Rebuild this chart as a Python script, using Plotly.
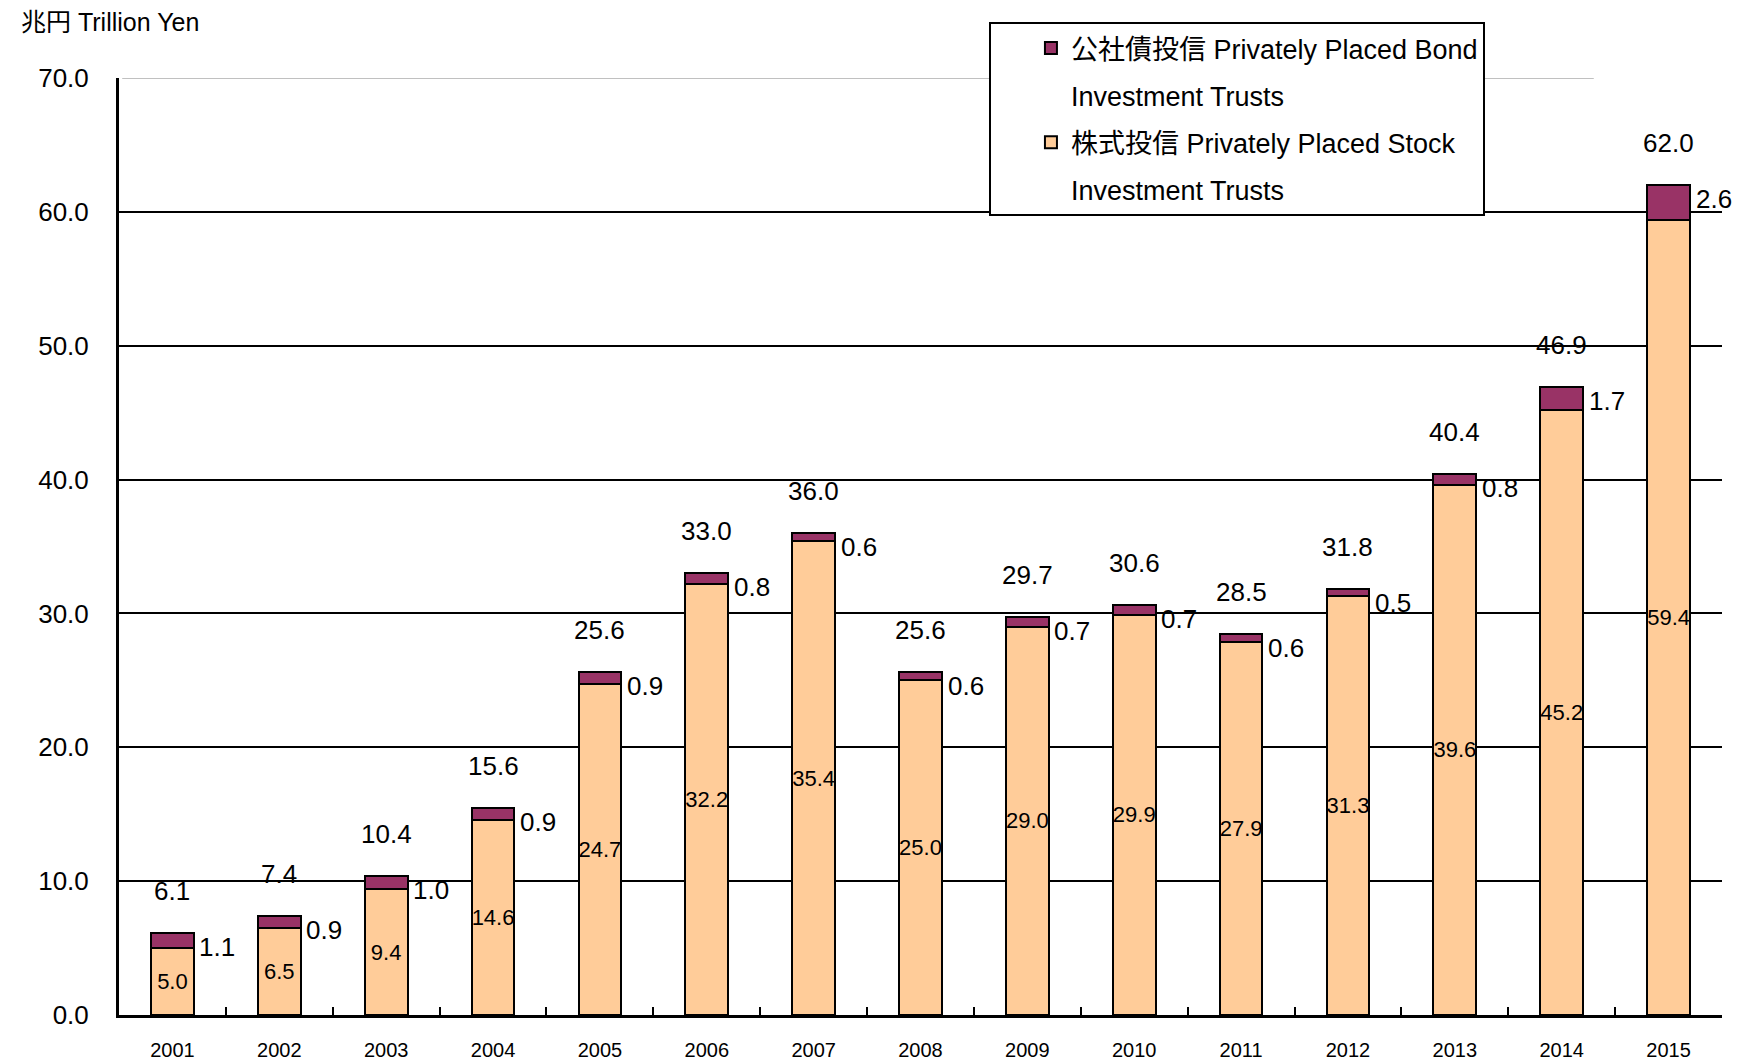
import plotly.graph_objects as go

# ---- data (trillion yen) ----
years = ["2001", "2002", "2003", "2004", "2005", "2006", "2007", "2008",
         "2009", "2010", "2011", "2012", "2013", "2014", "2015"]
stock = [5.0, 6.5, 9.4, 14.6, 24.7, 32.2, 35.4, 25.0, 29.0, 29.9, 27.9, 31.3, 39.6, 45.2, 59.4]
bond = [1.1, 0.9, 1.0, 0.9, 0.9, 0.8, 0.6, 0.6, 0.7, 0.7, 0.6, 0.5, 0.8, 1.7, 2.6]
total = [6.1, 7.4, 10.4, 15.6, 25.6, 33.0, 36.0, 25.6, 29.7, 30.6, 28.5, 31.8, 40.4, 46.9, 62.0]
y_ticks = [0, 10, 20, 30, 40, 50, 60, 70]
y_tick_text = [f"{v:.1f}" for v in y_ticks]

stock_name = "株式投信 Privately Placed Stock"
bond_name = "公社債投信 Privately Placed Bond"
name_second_line = "Investment Trusts"
title_text = "兆円 Trillion Yen"

FONT = "Liberation Sans, Arial, Noto Sans CJK JP, sans-serif"

STOCK_COLOR = "#FFCC99"
BOND_COLOR = "#993366"

fig = go.Figure()
fig.add_trace(go.Bar(
    x=years, y=stock, name=stock_name, legendgroup="s1", legendrank=3,
    marker=dict(color=STOCK_COLOR, line=dict(color="black", width=2)),
    text=[f"{v:.1f}" for v in stock], textposition="inside",
    insidetextanchor="middle", textangle=0, constraintext="none",
    textfont=dict(family=FONT, size=22, color="black"),
    hoverinfo="skip",
))
fig.add_trace(go.Bar(
    x=years, y=bond, name=bond_name, legendgroup="b1", legendrank=1,
    marker=dict(color=BOND_COLOR, line=dict(color="black", width=2)),
    hoverinfo="skip",
))
# second lines of the two legend labels (no symbol)
for grp, rank in (("b2", 2), ("s2", 4)):
    fig.add_trace(go.Scatter(
        x=[None], y=[None], mode="lines", name=name_second_line,
        legendgroup=grp, legendrank=rank, showlegend=True,
        line=dict(width=0, color="rgba(0,0,0,0)"), hoverinfo="skip",
    ))

tops = [s + b for s, b in zip(stock, bond)]
for i, (top, tot, b) in enumerate(zip(tops, total, bond)):
    fig.add_annotation(x=i, y=top, text=f"{tot:.1f}", showarrow=False,
                       xref="x", yref="y", yanchor="middle", yshift=42,
                       font=dict(family=FONT, size=26, color="black"))
    fig.add_annotation(x=i, y=top, text=f"{b:.1f}", showarrow=False,
                       xref="x", yref="y", yanchor="middle", xshift=45, yshift=-14,
                       font=dict(family=FONT, size=26, color="black"))

fig.add_annotation(text=title_text, xref="paper", yref="paper",
                   x=-0.0624, y=1.0598, xanchor="left", yanchor="middle",
                   showarrow=False, font=dict(family=FONT, size=25, color="black"))

# top line at 70 is light gray in the reference
fig.add_shape(type="line", xref="paper", yref="y", x0=0.002, x1=1, y0=70, y1=70,
              line=dict(color="white", width=4), layer="above")
fig.add_shape(type="line", xref="paper", yref="y", x0=0.002, x1=0.92, y0=70, y1=70,
              line=dict(color="#C0C0C0", width=2), layer="above")

fig.update_layout(
    width=1732, height=1056,
    margin=dict(l=111, r=18, t=70, b=49, autoexpand=False),
    paper_bgcolor="white", plot_bgcolor="white",
    barmode="stack", bargap=0.6,
    showlegend=True,
    legend=dict(x=0.5427, y=1.0598, xanchor="left", yanchor="top",
                traceorder="grouped", tracegroupgap=9, indentation=40,
                bgcolor="white", bordercolor="black", borderwidth=2,
                font=dict(family=FONT, size=27, color="black")),
    xaxis=dict(type="category", range=[-0.5, len(years) - 0.5], automargin=False,
               showline=True, linecolor="black", linewidth=3,
               ticks="inside", tickson="boundaries", ticklen=8, tickwidth=2,
               tickcolor="black", showgrid=False, ticklabelstandoff=15,
               tickangle=0,
               tickfont=dict(family=FONT, size=20, color="black")),
    yaxis=dict(range=[0, 70], tickvals=y_ticks, ticktext=y_tick_text, automargin=False,
               showline=True, linecolor="black", linewidth=3,
               showgrid=True, gridcolor="black", gridwidth=2, zeroline=False,
               ticks="", ticklabelstandoff=22,
               tickfont=dict(family=FONT, size=26, color="black")),
)

fig.write_html("out.html")
